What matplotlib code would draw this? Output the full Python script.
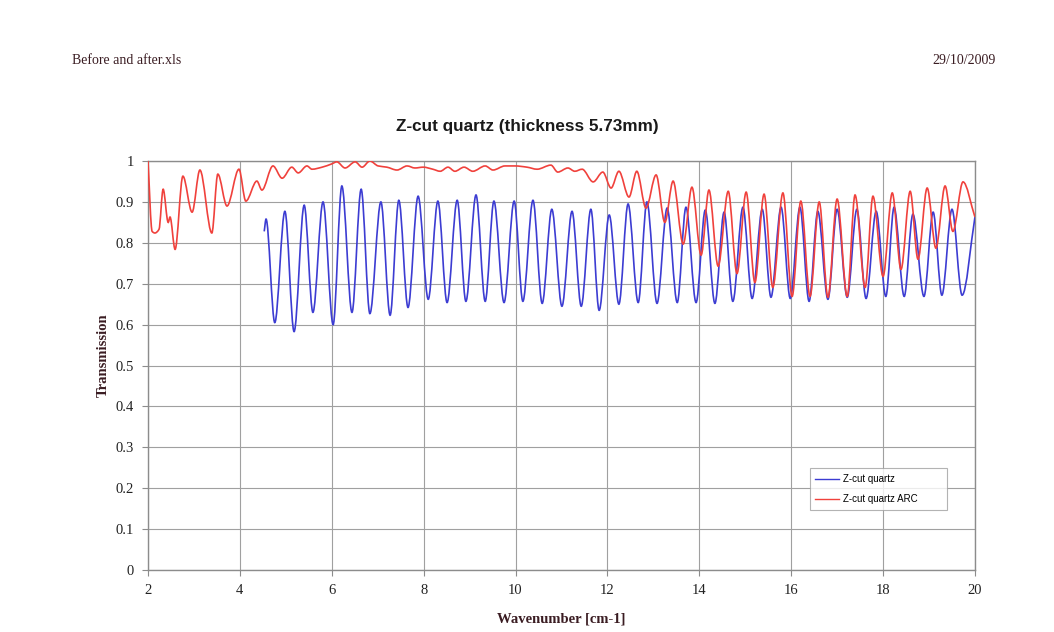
import numpy as np
import matplotlib
matplotlib.use("Agg")
import matplotlib.pyplot as plt
from matplotlib.path import Path
from matplotlib.patches import PathPatch

# Z-cut quartz (blue), turning points
quartz_x = [4.53, 4.57, 4.76, 4.98, 5.18, 5.40, 5.59, 5.81, 6.03, 6.22,
            6.44, 6.64, 6.83, 7.07, 7.27, 7.46, 7.66, 7.88, 8.10, 8.31,
            8.51, 8.73, 8.92, 9.14, 9.34, 9.53, 9.75, 9.97, 10.16, 10.38,
            10.58, 10.79, 11.01, 11.23, 11.43, 11.64, 11.82, 12.04, 12.25, 12.45,
            12.67, 12.86, 13.08, 13.30, 13.52, 13.71, 13.93, 14.13, 14.34, 14.54,
            14.73, 14.95, 15.15, 15.37, 15.56, 15.78, 15.98, 16.19, 16.39, 16.58,
            16.80, 17.00, 17.22, 17.43, 17.63, 17.85, 18.06, 18.24, 18.46, 18.65,
            18.89, 19.09, 19.28, 19.50, 19.72, 20.00]
quartz_y = [0.828, 0.858, 0.605, 0.877, 0.583, 0.892, 0.630, 0.900, 0.600, 0.939,
            0.630, 0.931, 0.627, 0.900, 0.623, 0.904, 0.642, 0.914, 0.662, 0.902,
            0.654, 0.904, 0.657, 0.917, 0.657, 0.902, 0.654, 0.902, 0.657, 0.904,
            0.652, 0.882, 0.645, 0.877, 0.645, 0.882, 0.635, 0.868, 0.650, 0.895,
            0.654, 0.900, 0.652, 0.885, 0.654, 0.887, 0.654, 0.880, 0.652, 0.875,
            0.657, 0.887, 0.664, 0.882, 0.667, 0.887, 0.664, 0.887, 0.657, 0.877,
            0.662, 0.882, 0.667, 0.882, 0.664, 0.877, 0.669, 0.887, 0.669, 0.870,
            0.669, 0.875, 0.672, 0.882, 0.672, 0.863]

# Z-cut quartz ARC (red)
arc_x = [2.00, 2.09, 2.15, 2.24, 2.33, 2.44, 2.48, 2.59, 2.76, 2.96,
         3.13, 3.39, 3.52, 3.72, 3.98, 4.13, 4.37, 4.48, 4.72, 4.92,
         5.13, 5.27, 5.46, 5.57, 5.79, 6.00, 6.11, 6.29, 6.51, 6.66,
         6.83, 7.01, 7.20, 7.42, 7.64, 7.81, 7.99, 8.20, 8.36, 8.53,
         8.68, 8.88, 9.07, 9.34, 9.51, 9.77, 9.99, 10.25, 10.47, 10.77,
         10.92, 11.14, 11.29, 11.45, 11.69, 11.90, 12.08, 12.25, 12.47, 12.64,
         12.84, 13.06, 13.25, 13.43, 13.65, 13.84, 14.04, 14.21, 14.41, 14.63,
         14.82, 15.02, 15.21, 15.41, 15.60, 15.82, 16.02, 16.21, 16.41, 16.61,
         16.80, 17.00, 17.22, 17.39, 17.61, 17.78, 18.00, 18.20, 18.39, 18.59,
         18.76, 18.96, 19.15, 19.35, 19.52, 19.74, 20.00]
arc_y = [1.000, 0.828, 0.824, 0.833, 0.931, 0.850, 0.863, 0.784, 0.963, 0.875,
         0.978, 0.824, 0.968, 0.890, 0.980, 0.902, 0.951, 0.929, 0.988, 0.958,
         0.985, 0.971, 0.988, 0.980, 0.985, 0.993, 0.998, 0.983, 0.998, 0.985,
         1.000, 0.988, 0.985, 0.978, 0.988, 0.983, 0.985, 0.980, 0.975, 0.985,
         0.975, 0.985, 0.975, 0.988, 0.978, 0.988, 0.988, 0.985, 0.980, 0.990,
         0.973, 0.983, 0.975, 0.980, 0.949, 0.973, 0.934, 0.975, 0.912, 0.975,
         0.885, 0.966, 0.850, 0.951, 0.797, 0.936, 0.770, 0.929, 0.743, 0.926,
         0.725, 0.924, 0.703, 0.919, 0.691, 0.922, 0.669, 0.902, 0.669, 0.900,
         0.667, 0.907, 0.669, 0.917, 0.691, 0.914, 0.718, 0.922, 0.735, 0.926,
         0.760, 0.934, 0.787, 0.939, 0.828, 0.949, 0.863]

x_ticks = [2, 4, 6, 8, 10, 12, 14, 16, 18, 20]
y_ticks = [0, 0.1, 0.2, 0.3, 0.4, 0.5, 0.6, 0.7, 0.8, 0.9, 1]
y_tick_labels = ['0', '0.1', '0.2', '0.3', '0.4', '0.5', '0.6', '0.7', '0.8', '0.9', '1']

blue = '#3c3cd2'
red = '#f0413c'
label_col = '#3a1c22'


def smooth_path(x, y):
    # excel-style smoothed line: cubic bezier, flat at turning points
    x = np.asarray(x, float)
    y = np.asarray(y, float)
    d = np.diff(y) / np.diff(x)
    m = np.zeros_like(x)
    m[0] = d[0]
    m[-1] = d[-1]
    for k in range(1, len(x) - 1):
        if d[k - 1] * d[k] > 0:
            m[k] = 2.0 / (1.0 / d[k - 1] + 1.0 / d[k])
    verts = [(x[0], y[0])]
    codes = [Path.MOVETO]
    for k in range(len(x) - 1):
        h = x[k + 1] - x[k]
        verts += [(x[k] + h / 3, y[k] + m[k] * h / 3),
                  (x[k + 1] - h / 3, y[k + 1] - m[k + 1] * h / 3),
                  (x[k + 1], y[k + 1])]
        codes += [Path.CURVE4] * 3
    return Path(verts, codes)


fig = plt.figure(figsize=(10.54, 6.32), dpi=100)
ax = fig.add_axes([0.1404, 0.0981, 0.7846, 0.6471])

ax.add_patch(PathPatch(smooth_path(quartz_x, quartz_y), fill=False, edgecolor=blue, lw=1.2, zorder=3))
ax.add_patch(PathPatch(smooth_path(arc_x, arc_y), fill=False, edgecolor=red, lw=1.2, zorder=4))

ax.set_xlim(2, 20)
ax.set_ylim(0, 1)
ax.set_xticks(x_ticks)
ax.set_xticklabels([str(t) for t in x_ticks])
ax.set_yticks(y_ticks)
ax.set_yticklabels(y_tick_labels)
ax.grid(True, color='#a0a0a0', lw=0.8)
ax.set_axisbelow(True)
for s in ax.spines.values():
    s.set_color('#8c8c8c')
    s.set_linewidth(1.0)
ax.tick_params(colors='#8c8c8c', length=4, width=0.8, pad=6,
               labelcolor='#222222', labelsize=10.5)
for lab in ax.get_xticklabels() + ax.get_yticklabels():
    lab.set_fontfamily('Liberation Serif')

# legend, box stretched like the excel one
handles = [plt.Line2D([0], [0], color=blue, lw=1.0, label='Z-cut quartz'),
           plt.Line2D([0], [0], color=red, lw=1.0, label='Z-cut quartz ARC')]
leg = ax.legend(handles=handles, loc='lower left', bbox_to_anchor=(0.80, 0.147, 0.166, 0.098),
                mode='expand', borderaxespad=0, frameon=True, fancybox=False,
                handlelength=2.4, borderpad=0.6, labelspacing=1.0, handletextpad=0.4,
                prop={'family': 'Liberation Sans', 'size': 7})
leg.get_frame().set_edgecolor('#a0a0a0')
leg.get_frame().set_linewidth(0.8)

# text around the chart
fig.text(527 / 1054, 1 - 127 / 632, 'Z-cut quartz (thickness 5.73mm)', ha='center', va='center',
         fontsize=12.3, fontweight='bold', family='Liberation Sans', color='#1a1a1a')
fig.text(72 / 1054, 1 - 60 / 632, 'Before and after.xls', ha='left', va='center',
         fontsize=10, family='Liberation Serif', color=label_col)
fig.text(996 / 1054, 1 - 60 / 632, '29/10/2009', ha='right', va='center',
         fontsize=10, family='Liberation Serif', color=label_col)
fig.text(103 / 1054, 1 - 355 / 632, 'Transmission', ha='center', va='center', rotation=90,
         fontsize=10.5, fontweight='bold', family='Liberation Serif', color=label_col)
fig.text(561 / 1054, 1 - 619 / 632, 'Wavenumber [cm-1]', ha='center', va='center',
         fontsize=10.5, fontweight='bold', family='Liberation Serif', color=label_col)

plt.savefig('out.png', dpi=100)
